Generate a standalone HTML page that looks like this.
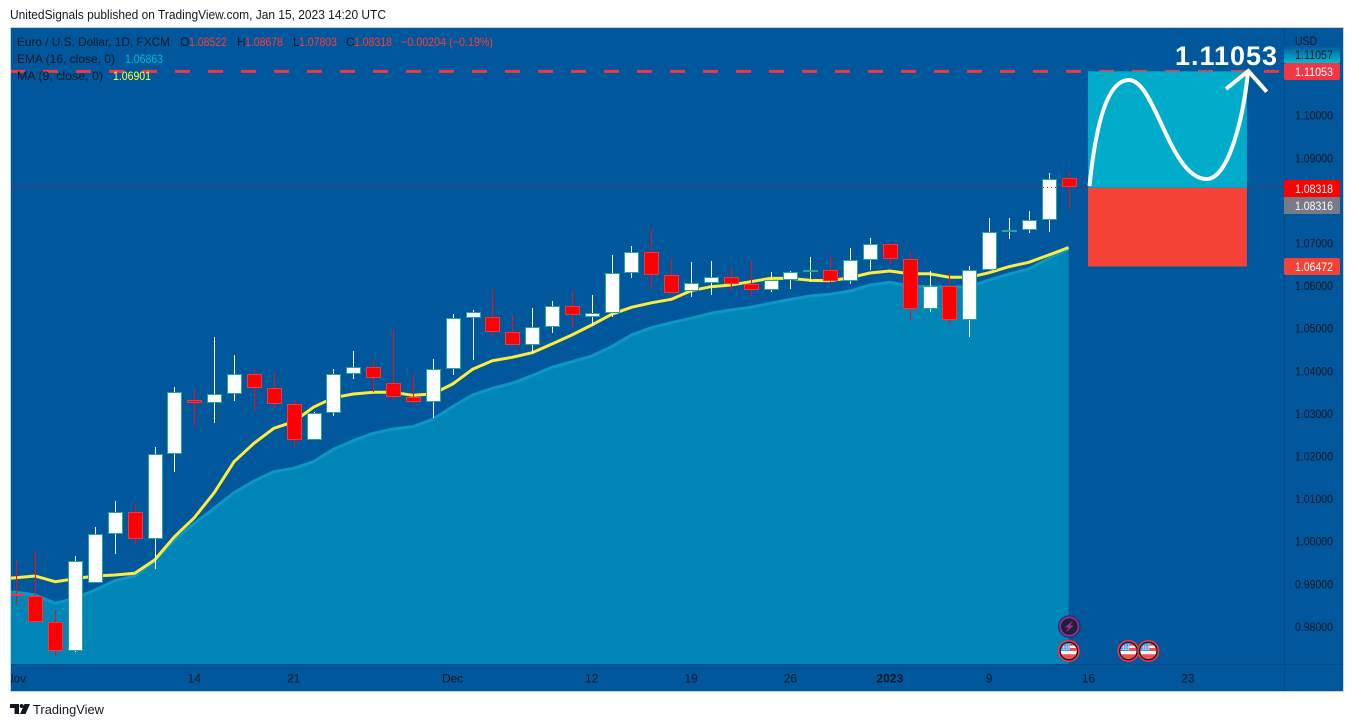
<!DOCTYPE html>
<html lang="en">
<head>
<meta charset="utf-8">
<title>EUR/USD chart</title>
<style>
html,body{margin:0;padding:0;background:#fff;width:1354px;height:727px;overflow:hidden}
svg{display:block}
text{font-family:"Liberation Sans",sans-serif;font-size:12px;fill:#131722}
</style>
</head>
<body>
<svg id="chart" xmlns="http://www.w3.org/2000/svg" width="1354" height="727" viewBox="0 0 1354 727">
  <defs>
    <clipPath id="plot-clip"><rect x="11" y="28" width="1273" height="636"/></clipPath>
    <clipPath id="time-clip"><rect x="11" y="665" width="1273" height="26"/></clipPath>
    <linearGradient id="scale-label-gradient" x1="0" y1="0" x2="0" y2="1">
      <stop offset="0" stop-color="#01579B"/>
      <stop offset="1" stop-color="#00BCD4"/>
    </linearGradient>
  </defs>
  <text x="10" y="19" style="font-size:12.5px" textLength="376" lengthAdjust="spacingAndGlyphs">UnitedSignals published on TradingView.com, Jan 15, 2023 14:20 UTC</text>
  <rect x="10.5" y="27.5" width="1333" height="664" fill="#01579B" stroke="#C3D3E3" stroke-width="1"/>
  <g id="plot" clip-path="url(#plot-clip)"></g>
  <rect x="1284" y="28" width="1" height="663" fill="#024B87"/>
  <rect x="11" y="664" width="1332" height="1" fill="#024B87"/>
  <g id="price-axis"></g>
  <g id="time-axis" clip-path="url(#time-clip)"></g>
  <g id="overlay"></g>

  <text x="1295" y="45" textLength="22" lengthAdjust="spacingAndGlyphs">USD</text>

  <text x="17" y="46" textLength="153" lengthAdjust="spacingAndGlyphs">Euro / U.S. Dollar, 1D, FXCM</text>
  <text x="180" y="46">O</text>
  <text x="189" y="46" style="fill:#FF3B3B" textLength="38" lengthAdjust="spacingAndGlyphs">1.08522</text>
  <text x="237" y="46">H</text>
  <text x="245" y="46" style="fill:#FF3B3B" textLength="38" lengthAdjust="spacingAndGlyphs">1.08678</text>
  <text x="293" y="46">L</text>
  <text x="299" y="46" style="fill:#FF3B3B" textLength="38" lengthAdjust="spacingAndGlyphs">1.07803</text>
  <text x="346" y="46">C</text>
  <text x="354" y="46" style="fill:#FF3B3B" textLength="38" lengthAdjust="spacingAndGlyphs">1.08318</text>
  <text x="401" y="46" style="fill:#FF3B3B" textLength="92" lengthAdjust="spacingAndGlyphs">−0.00204 (−0.19%)</text>
  <text x="17" y="63" textLength="98" lengthAdjust="spacingAndGlyphs">EMA (16, close, 0)</text>
  <text x="125" y="63" style="fill:#00BCD4" textLength="38" lengthAdjust="spacingAndGlyphs">1.06863</text>
  <text x="17" y="80" textLength="86" lengthAdjust="spacingAndGlyphs">MA (9, close, 0)</text>
  <text x="113" y="80" style="fill:#FFFF3B" textLength="38" lengthAdjust="spacingAndGlyphs">1.06901</text>

  <g>
    <path d="M10 704h9v10h-4.5v-6H10zM24.5 704h5.5l-4.5 10H20z" fill="#131722"/>
    <circle cx="21.7" cy="706" r="2" fill="#131722"/>
    <text x="33" y="714" style="font-size:13px" textLength="71" lengthAdjust="spacingAndGlyphs">TradingView</text>
  </g>
</svg>
<script>
// Candle values, oldest to newest
const opens = [0.98761,0.98711,0.98117,0.97437,0.99019,1.00169,1.00685,1.00066,1.02047,1.03315,
  1.03244,1.03455,1.03925,1.03596,1.03221,1.02376,1.03009,1.03925,1.04089,1.03714,
  1.03385,1.03268,1.04042,1.05239,1.05263,1.04911,1.04606,1.05028,1.05521,1.05263,
  1.05357,1.06296,1.06789,1.06249,1.05873,1.06061,1.06202,1.06038,1.05897,1.06131,
  1.06319,1.06366,1.06108,1.06601,1.06977,1.06624,1.05451,1.05991,1.05192,1.06366,
  1.07258,1.07305,1.07540,1.08522];
const highs = [0.99542,0.99761,0.98392,0.99660,1.00340,1.00951,1.00887,1.02218,1.03627,1.03573,
  1.04800,1.04378,1.04049,1.03955,1.03322,1.03047,1.04049,1.04472,1.04277,1.04965,
  1.03932,1.04284,1.05340,1.05434,1.05920,1.05317,1.05481,1.05646,1.05880,1.05786,
  1.06725,1.06937,1.07366,1.06631,1.06561,1.06585,1.06437,1.06577,1.06326,1.06343,
  1.06678,1.06725,1.06890,1.07124,1.06977,1.06819,1.06350,1.06296,1.06467,1.07594,
  1.07594,1.07758,1.08650,1.08678];
const lows = [0.98509,0.98117,0.97296,0.97413,0.99019,0.99707,0.99925,0.99354,1.01638,1.02718,
  1.02789,1.03298,1.03047,1.03141,1.02218,1.02376,1.02953,1.03822,1.03516,1.03305,
  1.03197,1.02899,1.03915,1.04261,1.04800,1.04606,1.04418,1.04901,1.05019,1.05066,
  1.05270,1.06192,1.05920,1.05826,1.05746,1.05786,1.05887,1.05732,1.05857,1.05934,
  1.06099,1.06061,1.06052,1.06373,1.06491,1.05183,1.05394,1.05136,1.04808,1.06366,
  1.07108,1.07249,1.07272,1.07803];
const closes = [0.98711,0.98117,0.97437,0.99549,1.00169,1.00685,1.00066,1.02047,1.03502,1.03244,
  1.03455,1.03925,1.03596,1.03221,1.02376,1.03009,1.03925,1.04089,1.03831,1.03385,
  1.03268,1.04042,1.05239,1.05380,1.04911,1.04606,1.05028,1.05521,1.05310,1.05357,
  1.06296,1.06789,1.06249,1.05826,1.06061,1.06202,1.06038,1.05897,1.06131,1.06319,
  1.06366,1.06108,1.06601,1.06977,1.06624,1.05451,1.05991,1.05192,1.06366,1.07258,
  1.07305,1.07540,1.08502,1.08318];
// Indicator values; first entry is the bar just left of the visible range
const maValues = [0.99103,0.99150,0.99190,0.99056,0.99127,0.99190,0.99214,0.99254,0.99566,1.00113,1.00559,
  1.01146,1.01873,1.02305,1.02657,1.02812,1.03153,1.03376,1.03462,1.03502,1.03502,
  1.03432,1.03462,1.03697,1.04042,1.04244,1.04324,1.04432,1.04636,1.04847,1.05082,
  1.05333,1.05498,1.05603,1.05685,1.05887,1.05981,1.06021,1.06099,1.06178,1.06178,
  1.06131,1.06122,1.06192,1.06303,1.06350,1.06286,1.06286,1.06202,1.06202,1.06310,
  1.06451,1.06554,1.06725,1.06901];
const emaValues = [0.98826,0.98808,0.98744,0.98549,0.98667,0.98862,0.99080,0.99190,0.99542,1.00035,1.00427,
  1.00779,1.01146,1.01420,1.01638,1.01718,1.01873,1.02164,1.02366,1.02540,1.02641,
  1.02695,1.02869,1.03164,1.03439,1.03596,1.03714,1.03892,1.04089,1.04221,1.04354,
  1.04573,1.04847,1.05019,1.05136,1.05239,1.05357,1.05434,1.05498,1.05592,1.05685,
  1.05763,1.05803,1.05880,1.06021,1.06085,1.05998,1.05981,1.05967,1.05981,1.06138,
  1.06279,1.06397,1.06648,1.06863];
const priceTicks = [1.10,1.09,1.07,1.06,1.05,1.04,1.03,1.02,1.01,1.00,0.99,0.98];
const dateTickLabels = ['Nov','14','21','Dec','12','19','26','2023','9','16','23'];
const dateTickBars = [0,9,14,22,29,34,39,44,49,54,59];
const targetPrice = 1.11053;
const entryPrice = 1.08318;
const stopPrice = 1.06472;
const positionStartBar = 54;
const positionEndBar = 62;
const dividendEventBars = [53];
const usEventBars = [53,56,57];

const NS = 'http://www.w3.org/2000/svg';
const xAt = i => 15.5 + i * 19.87;
const yAt = p => 115.5 + (1.10 - p) * 4260;
const levelY = p => yAt(p) + 0.7;
const maXAt = k => xAt(k - 1);

function make(parent, tag, attrs) {
  const el = document.createElementNS(NS, tag);
  for (const key in attrs) el.setAttribute(key, attrs[key]);
  parent.appendChild(el);
  return el;
}
const plot = document.getElementById('plot');
const priceAxis = document.getElementById('price-axis');
const timeAxis = document.getElementById('time-axis');
const overlay = document.getElementById('overlay');

// EMA area
const emaPts = emaValues.map((v, k) => maXAt(k).toFixed(2) + ' ' + yAt(v).toFixed(2));
const area = make(plot, 'path', {
  d: 'M' + emaPts.join('L') + 'L' + maXAt(emaValues.length - 1).toFixed(2) + ' 664L' + maXAt(0).toFixed(2) + ' 664Z',
  fill: '#0086B6'
});


const emaLine = make(plot, 'path', {
  d: 'M' + emaPts.join('L'), fill: 'none', stroke: '#0A98C4', 'stroke-width': 3, 'stroke-linejoin': 'round'
});



// MA line
const maLine = make(plot, 'path', {
  d: 'M' + maValues.map((v, k) => maXAt(k).toFixed(2) + ' ' + yAt(v).toFixed(2)).join('L'),
  fill: 'none', stroke: '#FFEB3B', 'stroke-width': 3, 'stroke-linejoin': 'round'
});



// Candles
opens.forEach((open, i) => {
  const close = closes[i];
  const up = close >= open;
  const cx = Math.round(xAt(i));
  const group = make(plot, 'g', {});
  
  
  const wTop = Math.round(yAt(highs[i]));
  const wBot = Math.round(yAt(lows[i]));
  const wick = make(group, 'rect', {
    x: cx, y: wTop, width: 1, height: Math.max(wBot - wTop, 1),
    fill: up ? '#FFFFFF' : '#F01010', 'shape-rendering': 'crispEdges'
  });
  
  
  const top = Math.round(yAt(Math.max(open, close)));
  const bot = Math.round(yAt(Math.min(open, close)));
  const body = make(group, 'rect', {
    x: cx - 6.5, y: top + 0.5, width: 14, height: Math.max(bot - top, 2) - 1,
    fill: up ? '#FFFFFF' : '#FF0000', stroke: up ? '#26A69A' : '#F23645', 'stroke-width': 1,
    'shape-rendering': 'crispEdges'
  });
  
  
});

// Current price dotted line
const closeLine = make(plot, 'line', {
  x1: 11, x2: 1284, y1: Math.floor(levelY(entryPrice)) + 0.5, y2: Math.floor(levelY(entryPrice)) + 0.5,
  stroke: '#FF0000', 'stroke-width': 1, 'stroke-dasharray': '1 3'
});



// Target dashed line
const targetLine = make(plot, 'line', {
  x1: 10, x2: 1284, y1: levelY(targetPrice), y2: levelY(targetPrice),
  stroke: '#F23645', 'stroke-width': 3, 'stroke-dasharray': '15 18'
});



// Position boxes
const boxLeft = xAt(positionStartBar) - 0.5;
const boxWidth = xAt(positionEndBar) - xAt(positionStartBar);
const profitBox = make(plot, 'rect', {
  x: boxLeft, y: levelY(targetPrice), width: boxWidth, height: levelY(entryPrice) - levelY(targetPrice), fill: '#00ACC9'
});


const lossBox = make(plot, 'rect', {
  x: boxLeft, y: levelY(entryPrice), width: boxWidth, height: levelY(stopPrice) - levelY(entryPrice), fill: '#F44336'
});



// Price axis
priceTicks.forEach(t => {
  const label = make(priceAxis, 'text', { x: 1295, y: yAt(t) + 4.2, textLength: 38, lengthAdjust: 'spacingAndGlyphs' });
  label.textContent = t.toFixed(5);
  
  
});

// Time axis
dateTickLabels.forEach((name, i) => {
  const label = make(timeAxis, 'text', { x: xAt(dateTickBars[i]), y: 682.5, 'text-anchor': 'middle' });
  label.textContent = name;
  if (name === '2023') label.setAttribute('font-weight', 'bold');
  
  
});

// Scale labels on the price axis
const topBadge = make(overlay, 'rect', { x: 1284, y: 46, width: 56, height: 17, fill: 'url(#scale-label-gradient)' });


const topBadgeText = make(overlay, 'text', { x: 1295, y: 59, textLength: 38, lengthAdjust: 'spacingAndGlyphs' });
topBadgeText.textContent = '1.11057';



const targetBadge = make(overlay, 'rect', { x: 1284, y: 63, width: 56, height: 17, rx: 2, fill: '#F23645' });


const targetBadgeText = make(overlay, 'text', { x: 1295, y: 76, textLength: 38, lengthAdjust: 'spacingAndGlyphs', style: 'fill:#fff' });
targetBadgeText.textContent = targetPrice.toFixed(5);



const closeBadge = make(overlay, 'rect', { x: 1284, y: 180, width: 56, height: 17, fill: '#FF0000' });


const closeBadgeText = make(overlay, 'text', { x: 1295, y: 193, textLength: 38, lengthAdjust: 'spacingAndGlyphs', style: 'fill:#fff' });
closeBadgeText.textContent = entryPrice.toFixed(5);



const bidBadge = make(overlay, 'rect', { x: 1284, y: 197, width: 56, height: 17, fill: '#787B86' });


const bidBadgeText = make(overlay, 'text', { x: 1295, y: 210, textLength: 38, lengthAdjust: 'spacingAndGlyphs', style: 'fill:#fff' });
bidBadgeText.textContent = '1.08316';



const stopBadge = make(overlay, 'rect', { x: 1284, y: 258, width: 56, height: 17, rx: 2, fill: '#F44336' });


const stopBadgeText = make(overlay, 'text', { x: 1295, y: 271, textLength: 38, lengthAdjust: 'spacingAndGlyphs', style: 'fill:#fff' });
stopBadgeText.textContent = stopPrice.toFixed(5);



// Drawn annotation
const curve = make(overlay, 'path', {
  d: 'M1089.5 186C1096 122 1108 80 1129 80C1155 80 1170 178 1206 179C1228 180 1243 120 1248 72',
  fill: 'none', stroke: '#FFFFFF', 'stroke-width': 4
});


const arrow = make(overlay, 'path', {
  d: 'M1226 89L1248.3 71L1266.7 91.7', fill: 'none', stroke: '#FFFFFF', 'stroke-width': 4
});


const bigLabel = make(overlay, 'text', {
  x: 1175, y: 65, textLength: 102, lengthAdjust: 'spacing', style: 'font-size:27px;font-weight:bold;fill:#fff'
});
bigLabel.textContent = targetPrice.toFixed(5);



// Event markers
dividendEventBars.forEach(bar => {
  const cx = xAt(bar) + 0.7;
  const cy = 626.5;
  const group = make(overlay, 'g', {});
  
  
  make(group, 'circle', { cx: cx, cy: cy, r: 10.8, fill: '#1E222D', stroke: '#0E3A66', 'stroke-width': 1 });
  make(group, 'circle', { cx: cx, cy: cy, r: 9.2, fill: '#1E222D', stroke: '#9C27B0', 'stroke-width': 1.8 });
  make(group, 'path', { d: `M${cx + 3.5} ${cy - 6}L${cx - 4.5} ${cy + 1}H${cx - 0.8}L${cx - 3.5} ${cy + 6}L${cx + 4.5} ${cy - 1}H${cx + 0.8}Z`, fill: '#9C27B0' });
});
usEventBars.forEach(bar => {
  const cx = xAt(bar) + 0.2;
  const cy = 651;
  const group = make(overlay, 'g', {});
  
  
  make(group, 'circle', { cx: cx, cy: cy, r: 10.2, fill: '#131722', stroke: '#F23645', 'stroke-width': 1.6 });
  make(group, 'circle', { cx: cx, cy: cy, r: 8, fill: '#F8F8F8' });
  make(group, 'path', { d: `M${cx - 8} ${cy}A8 8 0 0 1 ${cx + 1} ${cy - 8}V${cy}Z`, fill: '#4A90E2' });
  make(group, 'path', { d: `M${cx - 5} ${cy - 6}V${cy - 1}M${cx - 2.5} ${cy - 7}V${cy - 1}M${cx} ${cy - 7}V${cy - 1}M${cx - 7} ${cy - 4}H${cx + 1}M${cx - 7} ${cy - 1.8}H${cx + 1}`, stroke: '#BFDDF8', 'stroke-width': 0.7, fill: 'none' });
  make(group, 'path', { d: `M${cx + 1} ${cy - 7.9}A8 8 0 0 1 ${cx + 6} ${cy - 5.3}H${cx + 1}ZM${cx + 1} ${cy - 3}H${cx + 8}V${cy}H${cx + 1}ZM${cx - 7.3} ${cy + 3.3}H${cx + 7.3}A8 8 0 0 1 ${cx - 7.3} ${cy + 3.3}Z`, fill: '#F05050' });
});
</script>
</body>
</html>
